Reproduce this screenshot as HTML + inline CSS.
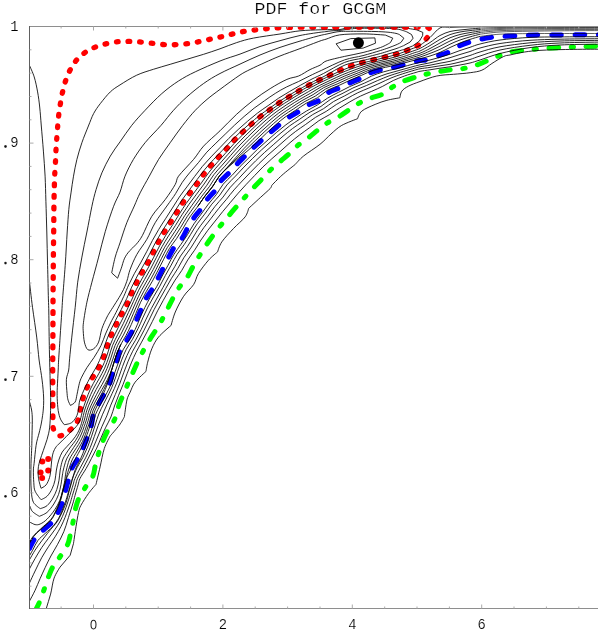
<!DOCTYPE html>
<html><head><meta charset="utf-8">
<style>
html,body{margin:0;padding:0;background:#fff;}
body{width:598px;height:636px;overflow:hidden;position:relative;font-family:"Liberation Mono",monospace;}
svg{position:absolute;left:0;top:0;display:block;}
text{font-family:"Liberation Mono",monospace;fill:#000;}
</style></head><body>
<svg width="598" height="636" viewBox="0 0 598 636">
<defs><clipPath id="plot"><rect x="29.2" y="26" width="580" height="582.6"/></clipPath><clipPath id="toprow"><rect x="322" y="26" width="100" height="4.2"/></clipPath></defs>
<rect width="598" height="636" fill="#fff"/>
<g fill="none" stroke-linecap="round" stroke-linejoin="round" clip-path="url(#plot)">
<path d="M418.0 27.0 C413.5 27.0 406.3 27.0 400.0 27.0 C393.7 27.0 386.7 27.0 380.0 27.0 C373.3 27.0 366.7 27.0 360.0 27.0 C353.3 27.0 345.8 27.0 340.0 27.0 C334.2 27.0 329.4 27.0 325.0 27.0 C320.6 27.0 317.4 27.0 313.6 27.0 C309.8 27.0 306.1 27.1 302.3 27.1 C298.5 27.2 294.5 27.2 290.6 27.3 C286.7 27.4 282.8 27.6 278.9 27.8 C275.0 28.0 271.2 28.4 267.3 28.7 C263.4 29.0 259.4 29.4 255.6 29.9 C251.8 30.3 248.0 30.7 244.2 31.4 C240.4 32.1 236.8 33.0 233.0 33.9 C229.2 34.8 225.5 35.8 221.7 36.7 C217.9 37.6 214.1 38.4 210.3 39.2 C206.5 40.0 202.7 41.0 198.9 41.7 C195.1 42.5 191.2 43.2 187.4 43.7 C183.6 44.2 179.8 44.6 176.0 44.7 C172.2 44.9 168.2 44.8 164.3 44.6 C160.5 44.4 156.8 43.8 152.9 43.4 C149.1 43.0 145.1 42.4 141.2 42.1 C137.3 41.8 133.3 41.5 129.5 41.4 C125.7 41.3 122.1 41.3 118.3 41.7 C114.5 42.1 110.4 42.8 106.6 43.7 C102.8 44.6 98.9 45.7 95.3 47.1 C91.7 48.5 88.3 50.2 85.2 52.4 C82.1 54.6 79.0 57.2 76.5 60.1 C74.0 63.0 72.0 66.4 70.2 69.8 C68.4 73.2 67.0 76.8 65.7 80.5 C64.4 84.2 63.5 88.1 62.6 91.9 C61.7 95.7 61.1 99.3 60.5 103.1 C59.9 106.9 59.3 110.7 58.8 114.5 C58.3 118.3 58.0 122.1 57.7 126.0 C57.4 129.9 57.1 134.1 56.8 138.0 C56.5 141.9 56.2 145.8 56.0 149.7 C55.8 153.6 55.7 157.6 55.5 161.5 C55.3 165.4 55.0 169.4 54.8 173.2 C54.6 177.0 54.5 180.7 54.4 184.5 C54.3 188.3 54.2 192.3 54.1 196.2 C54.0 200.1 54.0 204.1 53.9 207.9 C53.8 211.8 53.8 215.5 53.8 219.3 C53.8 223.2 53.8 225.7 53.7 231.0 C53.6 236.9 53.5 246.8 53.4 255.0 C53.3 263.2 53.3 270.8 53.2 280.0 C53.1 289.2 53.0 300.7 53.0 310.0 C53.0 319.3 52.9 326.0 52.9 336.0 C52.9 346.0 52.7 358.4 52.7 370.0 C52.7 381.6 52.8 397.6 52.8 405.5 C52.8 410.7 52.8 413.2 52.9 417.1 C53.0 421.0 52.3 425.8 53.4 428.9 C54.5 432.0 56.7 435.7 59.4 435.9 C62.1 436.1 66.8 432.6 69.8 430.2 C72.8 427.8 75.7 424.9 77.4 421.6 C79.1 418.3 79.2 414.1 80.1 410.4 C81.0 406.7 81.5 403.2 82.6 399.5 C83.7 395.8 85.3 391.7 86.9 388.1 C88.5 384.5 90.2 381.5 92.2 378.1 C94.2 374.8 96.7 371.5 98.6 368.0 C100.5 364.5 102.2 360.8 103.6 357.2 C105.0 353.6 105.8 349.9 107.0 346.3 C108.2 342.7 109.6 339.0 111.1 335.4 C112.6 331.8 114.5 328.0 116.2 324.5 C117.9 321.0 119.5 317.9 121.3 314.6 C123.1 311.3 125.1 308.2 126.8 304.7 C128.5 301.2 129.8 297.3 131.3 293.8 C132.8 290.3 134.3 287.2 136.0 283.8 C137.7 280.4 139.4 277.1 141.3 273.7 C143.2 270.3 145.4 267.1 147.3 263.7 C149.2 260.3 150.9 256.7 152.7 253.2 C154.5 249.7 156.1 246.3 158.0 242.8 C159.9 239.3 162.1 235.6 164.1 232.3 C166.1 229.0 168.1 226.0 170.2 222.8 C172.2 219.6 174.3 216.3 176.4 213.0 C178.5 209.7 180.5 206.1 182.7 202.9 C184.9 199.7 187.1 196.8 189.4 193.7 C191.7 190.6 194.1 187.6 196.4 184.5 C198.7 181.4 200.7 178.1 203.1 175.0 C205.5 171.9 208.0 168.8 210.6 165.8 C213.2 162.8 216.0 159.8 218.7 156.9 C221.4 154.0 224.1 151.3 226.7 148.5 C229.3 145.7 231.5 142.8 234.2 140.1 C236.8 137.4 239.8 134.7 242.6 132.1 C245.4 129.5 248.0 127.2 250.9 124.6 C253.8 122.0 257.0 119.2 260.1 116.7 C263.2 114.2 266.2 112.2 269.3 109.9 C272.4 107.6 275.7 105.2 278.9 103.0 C282.1 100.8 285.4 98.9 288.6 96.9 C291.8 94.9 295.0 93.0 298.3 91.1 C301.6 89.1 305.2 87.0 308.6 85.2 C312.1 83.4 315.5 81.7 319.0 80.0 C322.5 78.3 326.0 76.8 329.5 75.2 C333.0 73.6 336.5 71.7 340.1 70.2 C343.7 68.7 347.2 67.3 350.9 66.0 C354.6 64.7 358.3 63.6 362.1 62.6 C365.9 61.6 369.7 60.7 373.5 59.8 C377.3 58.9 380.9 58.0 384.7 57.1 C388.5 56.2 392.4 55.4 396.1 54.3 C399.8 53.2 403.4 51.8 407.0 50.4 C410.6 49.0 414.5 47.6 417.8 45.6 C421.1 43.6 424.8 40.7 426.8 38.2 C428.8 35.7 430.0 32.3 430.0 30.5 C430.0 28.7 428.9 27.8 427.0 27.2 C425.0 26.6 422.1 27.0 418.0 27.0Z" stroke="#ff0000" stroke-width="5.3" stroke-dasharray="1.7 9.9"/>
<path d="M29.5 548.5 C30.4 546.8 32.8 541.3 35.0 538.4 C37.2 535.5 39.7 533.7 42.6 530.9 C45.5 528.1 50.1 524.6 52.6 521.7 C55.1 518.8 55.9 516.9 57.6 513.5 C59.3 510.1 61.4 505.3 62.7 501.5 C64.0 497.7 64.5 494.4 65.5 490.7 C66.5 487.0 67.5 483.2 68.6 479.5 C69.6 475.8 70.1 472.2 71.8 468.5 C73.5 464.8 76.7 460.8 78.5 457.5 C80.3 454.2 81.2 452.4 82.7 448.9 C84.2 445.4 86.3 440.1 87.7 436.4 C89.1 432.6 90.1 430.1 91.1 426.4 C92.1 422.7 92.3 417.7 93.6 414.0 C94.8 410.3 96.8 407.4 98.6 404.0 C100.4 400.6 102.6 397.2 104.4 393.9 C106.2 390.5 108.1 387.4 109.5 383.9 C110.9 380.4 111.5 376.9 112.8 373.0 C114.0 369.1 115.8 364.2 117.0 360.5 C118.2 356.8 118.4 353.9 120.0 350.5 C121.6 347.1 124.7 343.7 126.8 340.3 C128.9 336.9 130.9 333.8 132.6 330.3 C134.3 326.8 135.3 323.1 136.8 319.4 C138.3 315.6 140.3 311.3 141.8 307.8 C143.3 304.3 144.2 301.9 146.0 298.6 C147.8 295.3 150.9 291.5 152.9 288.2 C154.9 284.9 156.2 282.0 157.9 278.6 C159.6 275.2 161.6 271.2 163.3 267.7 C165.1 264.2 166.5 261.2 168.4 257.7 C170.3 254.2 172.2 250.0 174.5 246.8 C176.8 243.6 179.7 241.8 181.9 238.6 C184.1 235.4 185.9 230.9 187.8 227.5 C189.8 224.1 191.4 221.3 193.6 218.2 C195.8 215.1 198.7 212.1 201.1 208.8 C203.5 205.6 205.4 201.8 207.8 198.7 C210.2 195.6 213.3 193.2 215.3 190.4 C217.3 187.6 217.6 185.0 220.0 181.9 C222.4 178.8 227.2 174.8 230.0 171.9 C232.8 169.0 234.0 167.2 236.7 164.4 C239.3 161.6 243.1 158.0 245.9 155.2 C248.7 152.4 250.6 150.3 253.4 147.7 C256.2 145.0 259.7 142.0 262.6 139.3 C265.5 136.7 268.1 134.3 271.0 131.8 C273.9 129.3 277.3 126.6 280.2 124.2 C283.1 121.8 285.5 119.7 288.6 117.6 C291.7 115.5 295.3 113.8 298.6 111.7 C301.9 109.6 305.0 107.0 308.6 105.0 C312.2 103.0 316.9 102.0 320.0 100.0 C323.1 98.0 324.1 95.1 327.5 93.1 C330.9 91.0 336.6 89.3 340.1 87.7 C343.6 86.1 344.9 85.1 348.4 83.5 C351.9 81.9 357.5 79.9 361.0 78.2 C364.5 76.5 365.7 74.7 369.3 73.2 C372.9 71.7 378.9 70.2 382.7 69.3 C386.5 68.4 388.1 68.5 391.9 67.7 C395.7 66.9 401.5 65.3 405.3 64.3 C409.1 63.3 412.1 62.4 414.5 61.8 C416.9 61.2 417.8 60.8 420.0 60.5 C422.2 60.2 424.6 60.5 427.5 59.8 C430.4 59.0 434.0 57.3 437.6 56.0 C441.2 54.7 445.7 53.5 449.3 51.8 C452.9 50.1 455.7 47.6 459.3 45.9 C462.9 44.2 467.4 42.8 471.0 41.7 C474.6 40.6 477.2 40.0 481.0 39.2 C484.8 38.4 489.8 37.6 493.6 37.1 C497.4 36.6 499.7 36.6 503.6 36.4 C507.5 36.2 513.2 36.0 517.0 35.8 C520.8 35.6 522.2 35.3 526.2 35.2 C530.2 35.1 534.7 35.1 541.0 35.1 C547.3 35.1 556.1 35.1 563.9 35.0 C571.7 34.9 582.0 34.8 587.7 34.7 C592.3 34.7 593.5 34.7 598.0 34.7 C602.5 34.7 612.2 34.7 615.0 34.7" stroke="#0000ff" stroke-width="5" stroke-dasharray="9.5 13.83"/>
<path d="M36.5 608.4 C37.1 607.2 38.6 604.3 39.9 601.1 C41.2 597.9 42.9 592.9 44.3 589.0 C45.7 585.1 46.7 581.3 48.2 577.5 C49.7 573.7 51.3 569.5 53.3 566.0 C55.3 562.5 57.8 560.1 60.2 556.5 C62.6 552.9 66.0 547.9 67.7 544.3 C69.4 540.7 69.3 538.8 70.2 535.0 C71.1 531.2 72.4 525.5 73.2 521.3 C74.0 517.1 74.3 513.7 75.2 510.0 C76.1 506.3 76.8 503.0 78.5 499.1 C80.2 495.2 83.2 490.7 85.6 486.9 C88.0 483.1 91.1 480.0 92.7 476.5 C94.3 473.0 94.3 469.5 95.3 465.7 C96.3 461.9 97.3 457.6 98.6 453.5 C99.8 449.4 101.3 445.2 102.8 441.4 C104.3 437.6 105.8 434.1 107.8 430.5 C109.8 426.9 112.8 423.3 114.5 419.7 C116.2 416.1 116.9 411.9 117.8 409.0 C118.7 406.1 118.8 405.2 120.0 402.3 C121.5 398.5 124.7 391.4 127.0 386.0 C129.3 380.6 131.7 375.2 134.0 370.0 C136.3 364.8 138.4 359.9 141.0 355.0 C143.6 350.1 146.9 344.3 149.3 340.3 C151.7 336.3 153.1 334.5 155.2 331.1 C157.3 327.7 159.8 323.6 161.9 319.9 C164.0 316.1 165.9 312.2 167.7 308.6 C169.5 305.1 170.8 302.2 172.7 298.6 C174.6 295.0 177.0 290.7 179.4 287.2 C181.8 283.7 184.8 281.1 187.0 277.7 C189.2 274.3 190.8 270.5 192.8 266.9 C194.9 263.3 196.6 260.3 199.3 256.0 C202.0 251.7 205.6 245.9 209.0 241.0 C212.4 236.1 216.8 230.5 220.0 226.3 C223.2 222.1 225.6 219.5 228.5 216.0 C231.4 212.5 234.8 208.6 237.6 205.4 C240.4 202.2 242.5 199.9 245.1 197.0 C247.7 194.1 250.8 190.7 253.4 187.8 C256.1 185.0 258.2 182.8 261.0 179.9 C263.8 177.0 267.0 173.3 270.2 170.2 C273.4 167.1 277.1 164.2 280.2 161.5 C283.3 158.8 285.6 157.0 288.6 154.3 C291.6 151.6 294.8 148.0 298.1 145.2 C301.4 142.4 305.3 140.1 308.6 137.6 C311.9 135.1 314.7 132.6 317.8 130.1 C320.9 127.6 324.1 125.0 327.5 122.8 C330.9 120.6 334.9 119.1 338.4 117.0 C341.9 114.9 345.0 112.6 348.4 110.3 C351.8 108.0 355.2 105.3 358.8 103.3 C362.4 101.3 366.2 99.8 370.2 98.3 C374.2 96.8 379.0 95.9 382.7 94.1 C386.4 92.2 388.8 89.3 392.2 87.2 C395.6 85.1 398.8 83.2 402.8 81.5 C406.8 79.8 412.2 78.2 416.2 76.9 C420.2 75.7 423.2 74.9 427.0 74.0 C430.8 73.1 435.2 72.2 439.2 71.5 C443.2 70.8 446.8 70.3 450.9 69.8 C454.9 69.3 459.3 69.3 463.5 68.5 C467.7 67.7 472.1 66.5 476.0 65.2 C479.9 64.0 483.2 62.5 486.9 61.0 C490.6 59.5 494.4 57.5 498.3 56.0 C502.2 54.5 505.8 53.0 510.0 52.0 C514.2 51.0 519.7 50.8 523.8 50.3 C527.9 49.8 530.9 49.6 534.7 49.2 C538.5 48.9 542.4 48.5 546.7 48.2 C551.0 47.9 556.4 47.7 560.6 47.5 C564.8 47.3 568.3 47.2 572.1 47.0 C575.9 46.8 579.3 46.6 583.6 46.5 C587.9 46.4 592.8 46.3 598.0 46.2 C603.2 46.1 612.2 46.0 615.0 46.0" stroke="#00ff00" stroke-width="5" stroke-dasharray="9.5 12.64 2.4 12.64" stroke-dashoffset="3.3"/>
</g>
<g fill="#ff0000"><circle cx="48.2" cy="459" r="3.0"/><circle cx="42.3" cy="461.5" r="3.0"/><circle cx="40.6" cy="472.6" r="3.0"/><circle cx="42.1" cy="478.1" r="3.0"/><circle cx="48.2" cy="470.6" r="3.0"/></g>
<g clip-path="url(#plot)" stroke="#000" stroke-width="0.85" fill="none" stroke-linejoin="round">
<path d="M29.2 64.8 C30.0 66.8 32.8 72.4 34.2 76.9 C35.6 81.4 36.7 86.9 37.6 91.9 C38.5 96.9 39.1 101.3 39.7 107.0 C40.3 112.7 40.7 118.7 41.3 126.0 C41.9 133.3 42.8 142.7 43.4 151.1 C44.0 159.5 44.7 167.8 45.1 176.2 C45.5 184.6 45.6 192.0 45.9 201.3 C46.2 210.6 46.5 221.3 46.8 232.0 C47.1 242.7 47.3 254.2 47.6 265.4 C47.9 276.5 48.2 291.1 48.4 298.9 C48.6 304.8 48.7 306.1 48.8 312.0 C48.9 319.8 49.1 334.2 49.3 345.4 C49.5 356.5 49.9 369.8 50.1 378.9 C50.3 388.0 50.7 393.1 50.7 400.0 C50.7 406.9 50.5 414.6 50.2 420.1 C49.9 425.6 49.6 429.0 48.7 433.2 C47.9 437.4 46.3 441.6 45.1 445.3 C43.9 449.0 42.6 452.4 41.6 455.4 C40.6 458.4 39.7 461.0 39.1 463.4 C38.5 465.8 38.2 467.5 38.1 470.0 C38.0 472.5 38.0 475.4 38.5 478.5 C39.0 481.6 41.0 488.3 41.0 488.3 C41.0 488.3 44.7 486.7 46.1 484.9 C47.5 483.1 48.7 480.1 49.5 477.6 C50.3 475.1 50.4 473.2 50.8 470.0 C51.2 466.8 51.5 461.3 52.0 458.1 C52.5 454.9 53.0 453.0 53.8 451.0 C54.5 449.0 56.5 446.3 56.5 446.3 C56.5 446.3 60.6 442.2 62.7 440.1 C64.9 438.0 67.2 435.6 69.4 433.4 C71.6 431.2 74.3 428.9 76.1 426.7 C77.9 424.5 79.0 422.8 80.1 420.0 C81.2 417.2 81.7 413.4 82.7 410.1 C83.7 406.8 84.7 403.5 86.0 400.0 C87.3 396.5 88.8 392.5 90.5 388.9 C92.2 385.3 94.2 381.9 96.1 378.4 C98.0 374.9 100.1 371.5 101.9 367.9 C103.6 364.3 105.1 360.6 106.5 356.8 C107.9 353.0 108.8 348.9 110.2 345.1 C111.6 341.2 113.4 337.6 115.1 333.9 C116.8 330.3 118.6 326.7 120.4 323.1 C122.2 319.4 124.1 315.8 125.9 312.2 C127.7 308.5 129.4 304.8 131.1 301.1 C132.8 297.3 134.4 293.5 136.2 289.8 C138.0 286.1 140.0 282.5 141.9 278.9 C143.9 275.2 146.0 271.7 148.0 268.1 C150.0 264.5 151.9 260.8 153.8 257.1 C155.8 253.4 157.6 249.6 159.6 245.9 C161.6 242.2 163.7 238.6 165.9 235.1 C168.1 231.5 170.5 228.1 172.8 224.6 C175.0 221.1 177.2 217.4 179.4 213.9 C181.7 210.3 183.9 206.7 186.3 203.3 C188.7 199.8 191.3 196.5 193.8 193.1 C196.3 189.7 198.9 186.4 201.4 182.9 C203.9 179.5 206.2 175.9 208.8 172.5 C211.4 169.1 214.2 166.0 216.9 162.8 C219.7 159.6 222.6 156.5 225.4 153.3 C228.2 150.1 231.0 146.8 233.9 143.7 C236.8 140.6 239.8 137.6 242.8 134.6 C245.8 131.6 248.9 128.7 252.0 125.8 C255.2 122.9 258.3 120.0 261.6 117.3 C264.8 114.6 268.2 112.0 271.6 109.5 C275.0 107.0 278.5 104.6 282.1 102.2 C285.6 99.9 289.2 97.7 292.9 95.5 C296.5 93.3 300.1 91.1 303.8 89.0 C307.5 86.9 311.3 84.9 315.0 83.0 C318.8 81.1 322.7 79.3 326.5 77.4 C330.4 75.6 334.1 73.7 338.0 72.0 C341.9 70.3 345.8 68.7 349.8 67.2 C353.8 65.7 357.9 64.4 362.0 63.2 C366.1 62.0 370.3 61.1 374.5 60.1 C378.7 59.0 382.8 58.1 387.0 57.0 C391.1 56.0 395.2 55.0 399.2 53.7 C403.1 52.4 407.3 50.6 410.8 49.2 C414.3 47.8 416.8 47.3 420.0 45.3 C423.2 43.3 426.7 40.4 430.0 37.5 C433.3 34.6 436.7 29.6 440.0 27.9 C443.3 26.2 446.7 27.4 450.0 27.3 C453.3 27.2 456.7 27.1 460.0 27.0 C463.3 26.9 466.7 26.9 470.0 26.9 C473.3 26.9 478.3 26.8 480.0 26.8"/>
<path d="M29.2 279.7 C29.8 284.3 31.2 297.7 32.5 307.3 C33.8 316.9 35.6 328.3 36.7 337.1 C37.8 345.9 38.2 352.8 39.1 360.0 C40.0 367.2 41.4 373.9 42.1 380.1 C42.9 386.3 43.4 392.4 43.6 397.0 C43.8 401.6 43.6 404.9 43.4 408.0 C43.2 411.1 43.0 412.7 42.6 415.4 C42.2 418.1 41.8 421.1 41.2 424.0 C40.6 426.9 40.0 429.4 39.1 433.0 C38.2 436.6 36.9 440.2 36.1 445.3 C35.3 450.4 34.6 459.3 34.1 463.4 C33.8 466.4 33.4 467.0 33.4 470.0 C33.3 473.2 33.5 479.2 33.8 482.7 C34.1 486.2 33.9 488.4 35.1 491.2 C36.3 494.0 41.0 499.7 41.0 499.7 C41.0 499.7 45.1 498.1 47.0 496.3 C48.9 494.5 50.8 491.4 52.1 488.7 C53.4 486.0 54.3 483.3 55.0 480.2 C55.7 477.1 55.8 473.4 56.4 470.0 C57.0 466.6 57.8 463.0 58.8 460.0 C59.8 457.0 60.9 454.3 62.2 452.1 C63.5 449.9 65.0 448.8 66.7 446.8 C68.5 444.8 70.9 442.3 72.7 440.1 C74.5 437.9 76.1 435.6 77.4 433.4 C78.7 431.2 79.6 428.9 80.4 426.7 C81.2 424.5 81.6 422.9 82.3 420.1 C83.0 417.3 83.7 413.5 84.7 410.1 C85.7 406.8 87.0 403.5 88.4 400.0 C89.8 396.5 91.5 392.7 93.3 389.1 C95.1 385.6 97.2 382.2 99.1 378.8 C101.0 375.3 102.9 371.8 104.6 368.2 C106.2 364.6 107.5 360.8 108.9 356.9 C110.2 353.1 111.1 349.0 112.6 345.3 C114.1 341.5 116.1 338.0 117.8 334.4 C119.6 330.8 121.5 327.2 123.3 323.6 C125.0 320.0 126.7 316.3 128.4 312.6 C130.2 308.9 131.8 305.2 133.5 301.4 C135.2 297.7 136.8 293.9 138.7 290.2 C140.5 286.6 142.6 283.1 144.6 279.5 C146.6 275.9 148.6 272.4 150.6 268.8 C152.5 265.1 154.4 261.4 156.3 257.7 C158.2 254.0 160.0 250.2 162.1 246.6 C164.1 242.9 166.3 239.4 168.5 235.9 C170.8 232.4 173.2 229.1 175.4 225.5 C177.7 222.0 179.7 218.3 182.0 214.8 C184.3 211.3 186.6 207.8 189.0 204.3 C191.4 200.9 194.0 197.6 196.5 194.2 C199.0 190.8 201.6 187.5 204.0 184.1 C206.5 180.7 208.7 176.9 211.3 173.6 C213.9 170.2 216.7 167.1 219.5 163.9 C222.3 160.7 225.1 157.6 227.9 154.4 C230.7 151.3 233.4 148.0 236.3 144.9 C239.2 141.8 242.2 138.8 245.2 135.8 C248.2 132.8 251.3 129.9 254.4 127.0 C257.5 124.1 260.6 121.2 263.9 118.5 C267.1 115.8 270.4 113.2 273.8 110.7 C277.2 108.2 280.7 105.7 284.3 103.4 C287.8 101.1 291.4 98.9 295.0 96.7 C298.7 94.5 302.3 92.4 306.0 90.3 C309.7 88.2 313.4 86.1 317.1 84.2 C320.9 82.3 324.8 80.5 328.6 78.7 C332.4 76.9 336.2 75.0 340.1 73.4 C344.0 71.7 347.9 70.1 351.9 68.7 C355.9 67.2 359.9 65.8 364.0 64.6 C368.1 63.4 372.3 62.5 376.5 61.5 C380.6 60.5 384.8 59.6 388.9 58.6 C393.1 57.6 397.1 56.5 401.1 55.3 C405.1 54.0 409.7 52.2 412.8 51.1 C416.0 49.9 417.1 49.8 420.0 48.4 C422.9 47.0 426.7 44.6 430.0 42.5 C433.3 40.4 436.7 37.3 440.0 35.5 C443.3 33.7 446.7 32.4 450.0 31.5 C453.3 30.6 456.7 30.4 460.0 30.0 C463.3 29.6 466.7 29.3 470.0 29.0 C473.3 28.7 478.3 28.3 480.0 28.2"/>
<path d="M29.2 400.6 C29.6 402.2 31.1 406.8 31.6 410.0 C32.1 413.2 32.3 415.5 32.3 420.1 C32.3 425.2 32.0 435.3 31.9 440.3 C31.8 444.8 31.8 446.5 31.6 450.3 C31.5 454.1 31.1 458.7 31.0 463.4 C30.9 468.1 30.8 473.9 30.8 478.5 C30.9 483.1 30.9 487.2 31.3 491.2 C31.7 495.2 31.9 499.4 33.4 502.3 C34.9 505.2 40.2 508.6 40.2 508.6 C40.2 508.6 44.9 507.5 47.0 505.7 C49.1 503.9 51.3 500.7 52.9 498.0 C54.5 495.3 55.8 492.5 56.8 489.5 C57.8 486.5 58.4 483.4 59.0 480.2 C59.6 476.9 59.6 473.4 60.2 470.0 C60.8 466.6 61.6 462.8 62.6 460.0 C63.6 457.2 64.9 455.6 66.2 453.4 C67.5 451.2 69.2 448.9 70.7 446.8 C72.2 444.7 74.0 442.9 75.4 440.7 C76.9 438.5 78.3 435.7 79.4 433.4 C80.5 431.1 81.3 428.9 82.1 426.7 C82.9 424.5 83.5 422.9 84.3 420.1 C85.1 417.3 85.8 413.5 86.9 410.1 C88.0 406.8 89.4 403.5 91.0 400.0 C92.6 396.5 94.4 392.9 96.2 389.4 C98.0 385.9 100.2 382.5 102.0 379.0 C103.8 375.5 105.6 372.0 107.1 368.3 C108.6 364.6 109.9 360.8 111.2 357.0 C112.5 353.1 113.5 349.1 115.1 345.4 C116.6 341.7 118.8 338.3 120.6 334.8 C122.4 331.2 124.3 327.7 126.0 324.0 C127.8 320.4 129.4 316.7 131.1 313.0 C132.7 309.3 134.3 305.5 136.0 301.8 C137.7 298.1 139.4 294.3 141.3 290.7 C143.2 287.1 145.3 283.7 147.3 280.1 C149.3 276.6 151.3 273.0 153.3 269.4 C155.2 265.7 157.0 262.0 158.9 258.3 C160.8 254.6 162.6 250.8 164.7 247.2 C166.8 243.6 169.1 240.3 171.4 236.8 C173.6 233.3 176.0 230.0 178.2 226.4 C180.4 222.9 182.4 219.2 184.7 215.7 C187.0 212.2 189.4 208.8 191.9 205.4 C194.3 202.0 196.7 198.6 199.2 195.3 C201.7 191.9 204.4 188.7 206.8 185.3 C209.3 181.8 211.3 177.9 213.9 174.6 C216.5 171.2 219.4 168.3 222.2 165.1 C225.0 162.0 227.7 158.8 230.5 155.6 C233.3 152.4 236.1 149.2 238.9 146.1 C241.8 143.0 244.8 140.0 247.8 137.0 C250.8 134.0 253.8 131.1 256.9 128.2 C260.0 125.4 263.1 122.5 266.3 119.8 C269.6 117.1 272.9 114.4 276.2 111.9 C279.6 109.4 283.1 107.0 286.7 104.7 C290.2 102.4 293.8 100.2 297.4 98.0 C301.0 95.9 304.7 93.8 308.4 91.7 C312.0 89.6 315.6 87.5 319.4 85.5 C323.1 83.6 327.0 81.9 330.8 80.1 C334.6 78.3 338.4 76.4 342.3 74.8 C346.2 73.1 350.2 71.7 354.1 70.2 C358.1 68.7 362.0 67.1 366.0 65.9 C370.1 64.6 374.3 63.7 378.4 62.7 C382.6 61.8 386.8 61.0 391.0 60.0 C395.1 59.0 399.1 57.9 403.1 56.7 C407.1 55.5 412.0 53.6 414.8 52.6 C417.1 51.9 417.8 52.0 420.0 51.0 C422.5 49.8 426.7 47.5 430.0 45.6 C433.3 43.7 436.7 41.2 440.0 39.4 C443.3 37.6 446.7 35.8 450.0 34.6 C453.3 33.4 456.7 32.7 460.0 32.0 C463.3 31.3 466.7 31.0 470.0 30.6 C473.3 30.2 478.3 29.7 480.0 29.5"/>
<path d="M25.0 498.0 C25.7 499.2 28.4 503.9 29.2 505.3 C29.5 505.9 29.7 505.9 30.0 506.5 C30.6 507.6 30.9 510.0 32.5 511.6 C34.0 513.2 39.3 516.3 39.3 516.3 C39.3 516.3 44.6 514.4 47.0 512.4 C49.4 510.3 51.9 507.0 53.8 504.0 C55.7 501.0 57.3 497.9 58.5 494.6 C59.7 491.3 60.4 487.6 61.0 484.4 C61.6 481.1 62.0 477.5 62.4 475.1 C62.8 472.8 62.7 472.3 63.3 470.0 C63.9 467.5 65.1 462.8 66.2 460.0 C67.3 457.2 68.5 455.5 69.8 453.4 C71.0 451.3 72.3 449.5 73.7 447.4 C75.1 445.3 76.8 442.9 78.1 440.7 C79.4 438.5 80.4 436.3 81.4 434.0 C82.4 431.7 83.3 429.0 84.1 426.7 C84.9 424.4 85.5 422.9 86.3 420.1 C87.1 417.3 87.9 413.5 89.1 410.1 C90.3 406.8 92.0 403.4 93.7 400.0 C95.4 396.6 97.3 393.0 99.2 389.5 C101.1 386.1 103.2 382.8 104.9 379.2 C106.7 375.7 108.3 372.1 109.7 368.4 C111.1 364.7 112.2 360.8 113.6 357.0 C114.9 353.1 116.0 349.2 117.6 345.5 C119.3 341.9 121.5 338.6 123.4 335.1 C125.2 331.6 127.0 328.0 128.7 324.4 C130.4 320.7 131.9 316.9 133.5 313.2 C135.2 309.5 136.7 305.7 138.4 302.0 C140.1 298.3 142.0 294.7 143.9 291.1 C145.8 287.5 148.0 284.1 150.0 280.6 C151.9 277.0 153.9 273.4 155.8 269.8 C157.7 266.1 159.5 262.4 161.4 258.7 C163.3 255.1 165.1 251.3 167.2 247.7 C169.3 244.2 171.9 241.0 174.1 237.6 C176.4 234.2 178.6 230.7 180.8 227.2 C183.0 223.6 185.0 219.9 187.3 216.4 C189.6 213.0 192.2 209.7 194.6 206.3 C197.0 203.0 199.4 199.5 201.9 196.1 C204.3 192.8 207.1 189.7 209.6 186.3 C212.0 182.9 214.0 178.9 216.5 175.6 C219.1 172.2 222.1 169.4 224.9 166.2 C227.6 163.1 230.3 159.9 233.1 156.7 C235.9 153.5 238.7 150.4 241.6 147.3 C244.4 144.2 247.4 141.2 250.4 138.2 C253.4 135.3 256.4 132.3 259.5 129.5 C262.6 126.6 265.7 123.8 268.9 121.0 C272.1 118.3 275.3 115.6 278.7 113.1 C282.1 110.6 285.6 108.3 289.1 106.0 C292.6 103.7 296.2 101.4 299.8 99.3 C303.4 97.1 307.2 95.2 310.8 93.1 C314.4 91.0 317.9 88.6 321.6 86.6 C325.3 84.7 329.2 83.1 333.0 81.3 C336.9 79.6 340.6 77.7 344.5 76.1 C348.4 74.4 352.4 73.1 356.3 71.5 C360.2 70.0 364.0 68.3 368.0 67.0 C372.1 65.7 376.3 64.8 380.4 63.9 C384.6 62.9 388.8 62.2 392.9 61.2 C397.0 60.2 400.5 59.2 405.0 57.9 C409.5 56.6 415.8 54.8 420.0 53.2 C424.2 51.6 426.7 50.2 430.0 48.5 C433.3 46.8 436.7 44.8 440.0 43.0 C443.3 41.2 446.7 39.2 450.0 37.8 C453.3 36.4 456.7 35.4 460.0 34.5 C463.3 33.6 466.7 33.2 470.0 32.6 C473.3 32.0 478.3 31.3 480.0 31.0"/>
<path d="M24.0 523.0 C24.9 522.9 27.3 521.8 29.2 522.1 C31.1 522.4 33.3 524.3 35.1 524.6 C36.9 524.9 38.2 524.9 40.2 524.0 C42.2 523.1 44.6 521.6 47.0 519.2 C49.4 516.9 52.5 513.0 54.6 509.9 C56.7 506.8 58.4 503.7 59.7 500.6 C61.0 497.5 61.8 494.2 62.6 491.2 C63.4 488.2 63.9 485.5 64.4 482.7 C64.9 479.9 65.3 476.3 65.6 474.2 C65.9 472.3 65.9 471.9 66.4 470.0 C67.0 467.6 68.1 462.8 69.2 460.0 C70.3 457.2 71.5 455.5 72.8 453.4 C74.0 451.3 75.4 449.4 76.7 447.4 C78.0 445.4 79.3 443.5 80.4 441.4 C81.5 439.3 82.5 436.9 83.4 434.7 C84.3 432.5 85.0 430.4 85.8 428.0 C86.6 425.6 87.4 423.1 88.3 420.1 C89.2 417.1 89.9 413.5 91.2 410.1 C92.5 406.8 94.3 403.4 96.1 400.0 C97.9 396.6 99.9 393.2 101.8 389.7 C103.8 386.3 105.8 383.0 107.5 379.4 C109.3 375.9 110.7 372.2 112.1 368.5 C113.4 364.8 114.4 360.8 115.8 357.0 C117.1 353.2 118.4 349.4 120.1 345.8 C121.8 342.2 124.1 339.0 126.0 335.5 C127.8 332.0 129.6 328.4 131.2 324.7 C132.9 321.0 134.3 317.2 135.8 313.5 C137.4 309.7 138.9 305.9 140.6 302.2 C142.4 298.6 144.3 295.1 146.3 291.5 C148.3 288.0 150.4 284.6 152.4 281.1 C154.4 277.5 156.2 273.9 158.1 270.2 C160.0 266.6 161.8 262.8 163.7 259.2 C165.6 255.5 167.4 251.7 169.5 248.3 C171.7 244.8 174.4 241.8 176.7 238.4 C179.0 235.0 181.1 231.4 183.3 227.9 C185.4 224.3 187.4 220.6 189.7 217.2 C192.0 213.7 194.7 210.6 197.1 207.3 C199.6 203.9 201.8 200.3 204.3 197.0 C206.8 193.7 209.7 190.8 212.1 187.4 C214.6 184.0 216.4 179.9 218.9 176.5 C221.5 173.2 224.6 170.4 227.3 167.3 C230.1 164.2 232.8 160.9 235.6 157.8 C238.3 154.7 241.2 151.6 244.0 148.5 C246.9 145.5 249.8 142.5 252.8 139.5 C255.8 136.5 258.8 133.6 261.9 130.8 C265.0 127.9 268.1 125.1 271.3 122.4 C274.5 119.6 277.7 116.9 281.0 114.4 C284.4 111.9 288.0 109.7 291.5 107.4 C295.0 105.1 298.4 102.7 302.0 100.6 C305.6 98.5 309.5 96.7 313.1 94.6 C316.7 92.5 319.9 89.7 323.6 87.7 C327.3 85.8 331.3 84.4 335.1 82.6 C339.0 80.9 342.7 79.0 346.5 77.4 C350.4 75.7 354.4 74.4 358.3 72.8 C362.2 71.3 365.9 69.4 369.9 68.1 C373.9 66.8 378.1 65.9 382.2 64.9 C386.4 64.0 390.6 63.3 394.7 62.3 C398.8 61.3 402.5 60.2 406.8 59.0 C411.0 57.8 416.1 56.4 420.0 55.1 C423.9 53.8 426.7 52.5 430.0 51.0 C433.3 49.5 436.7 47.9 440.0 46.2 C443.3 44.5 446.7 42.5 450.0 41.0 C453.3 39.5 456.7 38.1 460.0 37.0 C463.3 35.9 466.7 35.4 470.0 34.6 C473.3 33.9 478.3 32.9 480.0 32.5"/>
<path d="M21.6 556.6 C22.5 555.0 25.2 550.4 27.1 547.1 C28.9 543.8 30.5 539.8 32.8 536.7 C35.0 533.7 37.7 531.7 40.7 528.9 C43.6 526.1 48.1 522.6 50.5 519.9 C52.9 517.1 53.5 515.5 55.1 512.2 C56.7 509.0 58.8 504.3 60.1 500.6 C61.3 496.9 61.8 493.6 62.8 490.0 C63.8 486.3 65.3 480.7 65.9 478.8 C66.0 478.4 66.1 478.3 66.2 478.0 C66.6 476.5 67.5 473.0 68.5 470.0 C69.5 467.0 70.9 462.8 72.1 460.0 C73.3 457.2 74.6 455.5 75.8 453.4 C77.0 451.3 78.2 449.4 79.3 447.4 C80.4 445.4 81.5 443.5 82.5 441.4 C83.5 439.3 84.5 436.9 85.3 434.7 C86.1 432.5 86.8 430.4 87.6 428.0 C88.4 425.6 89.3 423.1 90.2 420.1 C91.1 417.1 91.9 413.5 93.2 410.1 C94.5 406.8 96.5 403.4 98.3 400.0 C100.1 396.6 102.1 393.1 103.8 389.6 C105.5 386.1 107.2 382.6 108.6 378.9 C110.1 375.2 111.2 371.4 112.4 367.5 C113.6 363.7 114.7 359.8 116.0 356.0 C117.4 352.2 119.8 346.8 120.6 344.9"/>
<path d="M197.8 206.5 C199.0 204.7 202.4 199.5 204.9 196.1 C207.4 192.8 210.2 189.8 212.7 186.4 C215.1 183.1 217.0 179.0 219.6 175.8 C222.2 172.5 225.4 169.8 228.3 166.8 C231.2 163.8 234.1 160.9 237.1 158.0 C240.1 155.1 243.1 152.3 246.1 149.4 C249.1 146.5 252.1 143.6 255.1 140.7 C258.1 137.8 261.1 134.9 264.2 132.0 C267.2 129.2 270.3 126.3 273.5 123.6 C276.7 120.9 279.8 118.1 283.2 115.7 C286.6 113.2 290.2 111.1 293.7 108.8 C297.2 106.5 300.5 104.0 304.1 101.9 C307.7 99.8 311.7 98.3 315.3 96.1 C318.9 94.0 321.9 91.0 325.6 89.0 C329.2 86.9 333.3 85.7 337.1 84.0 C341.0 82.3 344.7 80.4 348.5 78.7 C352.3 77.1 356.3 75.6 360.1 74.0 C364.0 72.4 367.7 70.5 371.6 69.2 C375.6 67.9 379.8 67.1 384.0 66.1 C388.1 65.1 392.3 64.4 396.4 63.4 C400.5 62.4 404.5 61.3 408.4 60.2 C412.4 59.1 416.4 58.1 420.0 57.0 C423.6 55.9 426.7 54.7 430.0 53.4 C433.3 52.1 436.7 50.9 440.0 49.4 C443.3 47.9 446.7 45.8 450.0 44.2 C453.3 42.6 456.7 41.2 460.0 40.0 C463.3 38.8 466.7 37.9 470.0 36.9 C473.3 35.9 478.3 34.7 480.0 34.2"/>
<path d="M22.0 556.8 C22.9 555.3 25.6 550.7 27.5 547.4 C29.4 544.1 30.9 540.1 33.2 537.0 C35.4 534.0 38.1 532.0 41.0 529.2 C44.0 526.4 48.4 523.0 50.9 520.2 C53.3 517.4 53.9 515.7 55.5 512.5 C57.2 509.2 59.2 504.5 60.5 500.7 C61.8 497.0 62.3 493.7 63.3 490.1 C64.3 486.5 65.7 481.2 66.4 478.9 C66.8 477.6 66.9 477.3 67.5 476.0 C68.2 474.5 69.4 472.7 70.6 470.0 C71.8 467.3 73.5 462.8 74.8 460.0 C76.1 457.2 77.2 455.5 78.3 453.4 C79.4 451.3 80.6 449.4 81.6 447.4 C82.6 445.4 83.5 443.5 84.4 441.4 C85.3 439.3 86.2 436.9 87.0 434.7 C87.8 432.5 88.5 430.4 89.3 428.0 C90.1 425.6 91.0 423.1 92.0 420.1 C93.0 417.1 93.7 413.5 95.1 410.1 C96.5 406.8 98.5 403.4 100.2 400.0 C101.9 396.6 103.8 393.1 105.3 389.5 C106.8 385.8 108.0 382.0 109.2 378.3 C110.4 374.5 111.5 370.6 112.7 366.7 C113.8 362.9 114.9 358.9 116.3 355.2 C117.7 351.4 120.2 346.0 121.0 344.2"/>
<path d="M198.3 205.7 C199.5 204.0 203.0 198.8 205.4 195.4 C207.9 192.1 210.6 189.0 213.1 185.6 C215.6 182.2 217.6 178.3 220.2 175.1 C222.9 171.9 226.1 169.2 229.1 166.4 C232.2 163.6 235.4 161.0 238.5 158.3 C241.7 155.6 245.0 153.1 248.1 150.4 C251.2 147.6 254.2 144.8 257.3 142.0 C260.3 139.1 263.2 136.1 266.3 133.3 C269.3 130.4 272.4 127.6 275.6 124.9 C278.7 122.2 281.9 119.4 285.2 117.0 C288.6 114.5 292.3 112.5 295.7 110.2 C299.2 107.9 302.5 105.4 306.1 103.3 C309.7 101.2 313.9 99.9 317.4 97.8 C321.0 95.6 323.8 92.4 327.4 90.3 C331.0 88.3 335.2 87.1 339.0 85.4 C342.8 83.7 346.5 81.8 350.3 80.1 C354.1 78.4 358.0 76.9 361.8 75.2 C365.6 73.6 369.3 71.6 373.2 70.3 C377.2 69.0 381.4 68.2 385.5 67.3 C389.6 66.3 393.8 65.6 397.9 64.6 C402.0 63.6 406.3 62.4 410.0 61.4 C413.6 60.4 416.7 59.7 420.0 58.8 C423.3 57.9 426.7 57.1 430.0 56.0 C433.3 54.9 436.7 53.8 440.0 52.4 C443.3 51.0 446.7 49.1 450.0 47.5 C453.3 45.9 456.7 44.4 460.0 43.0 C463.3 41.6 466.7 40.5 470.0 39.4 C473.3 38.3 478.3 36.9 480.0 36.4"/>
<path d="M27.1 559.8 C28.0 558.2 30.8 553.5 32.6 550.3 C34.4 547.1 35.8 543.3 37.9 540.5 C40.0 537.8 42.2 536.3 45.1 533.5 C48.0 530.8 52.7 527.1 55.3 524.1 C58.0 521.0 59.0 518.7 60.8 515.1 C62.6 511.5 64.7 506.6 66.1 502.7 C67.5 498.8 68.0 495.3 69.0 491.6 C70.0 487.9 71.0 484.2 72.1 480.5 C73.1 476.8 73.9 473.1 75.3 469.5 C76.7 465.9 78.9 462.6 80.5 459.1 C82.1 455.5 83.5 452.0 84.9 448.3 C86.3 444.7 87.6 441.1 88.8 437.4 C90.1 433.7 91.5 430.2 92.6 426.4 C93.7 422.6 94.0 418.5 95.4 414.8 C96.7 411.1 98.8 407.8 100.6 404.4 C102.4 400.9 104.4 397.6 106.2 394.2 C108.0 390.7 109.8 387.3 111.3 383.7 C112.8 380.0 113.7 376.1 114.9 372.3 C116.2 368.6 117.5 364.8 118.9 361.1 C120.2 357.3 121.3 353.4 123.0 349.9 C124.8 346.4 127.4 343.3 129.4 340.0 C131.4 336.6 133.4 333.2 135.1 329.6 C136.9 326.1 138.2 322.2 139.8 318.6 C141.4 314.9 143.0 311.2 144.8 307.6 C146.6 304.0 148.4 300.5 150.4 297.0 C152.3 293.5 154.6 290.3 156.6 286.8 C158.6 283.3 160.3 279.6 162.2 276.0 C164.1 272.5 166.0 268.9 168.0 265.3 C169.9 261.7 171.7 258.0 173.8 254.6 C176.0 251.1 178.5 248.0 180.8 244.6 C183.0 241.3 185.4 238.0 187.6 234.5 C189.7 231.1 191.6 227.3 193.9 223.9 C196.2 220.5 198.8 217.4 201.2 214.1 C203.6 210.8 205.9 207.3 208.4 204.1 C210.9 200.8 213.8 198.0 216.3 194.7 C218.7 191.4 220.6 187.4 223.2 184.2 C225.8 181.0 229.0 178.4 231.9 175.5 C234.7 172.5 237.4 169.4 240.2 166.4 C243.1 163.4 246.0 160.6 249.0 157.7 C251.9 154.8 254.8 151.8 257.8 149.0 C260.8 146.2 263.9 143.5 267.0 140.8 C270.1 138.0 273.2 135.3 276.3 132.6 C279.5 130.0 282.6 127.3 285.9 124.8 C289.2 122.3 292.7 120.1 296.1 117.8 C299.5 115.5 302.9 113.1 306.5 111.0 C310.0 108.9 313.8 107.2 317.3 105.0 C320.8 102.9 324.0 100.3 327.6 98.1 C331.1 96.0 334.8 94.2 338.5 92.3 C342.1 90.4 345.8 88.5 349.5 86.7 C353.2 85.0 357.1 83.6 360.8 81.8 C364.5 80.0 367.9 77.6 371.7 76.0 C375.5 74.3 379.4 73.1 383.4 71.9 C387.4 70.7 391.6 69.9 395.6 68.9 C399.6 67.8 403.5 66.7 407.5 65.6 C411.6 64.5 416.3 63.2 420.0 62.3 C423.7 61.4 426.7 60.8 430.0 60.0 C433.3 59.2 436.7 58.3 440.0 57.3 C443.3 56.3 446.7 55.3 450.0 54.2 C453.3 53.1 456.7 51.6 460.0 50.5 C463.3 49.4 466.7 48.4 470.0 47.3 C473.3 46.2 475.4 45.1 480.0 44.0 C485.0 42.8 491.7 41.1 500.0 40.0 C508.3 38.9 520.0 37.9 530.0 37.4 C540.0 36.9 548.7 37.0 560.0 36.9 C571.3 36.8 589.3 36.7 598.0 36.7 C604.3 36.7 609.7 36.7 612.0 36.7"/>
<path d="M25.0 567.0 C25.7 565.9 27.5 563.0 29.2 560.2 C30.9 557.4 33.0 553.3 35.1 550.1 C37.2 546.9 39.6 543.7 41.7 540.9 C43.8 538.1 45.6 535.8 47.6 533.2 C49.6 530.6 52.0 528.0 53.8 525.5 C55.6 523.0 57.1 520.9 58.5 518.5 C59.9 516.1 60.9 513.6 62.0 511.0 C63.1 508.4 64.1 505.6 65.0 503.0 C65.9 500.4 66.5 498.5 67.4 495.5 C68.3 492.5 69.7 487.7 70.5 484.9 C71.3 482.1 71.3 481.3 72.4 478.5 C73.5 475.7 75.3 471.3 77.0 467.8 C78.7 464.3 81.0 461.1 82.8 457.6 C84.5 454.2 86.1 450.6 87.6 447.1 C89.0 443.5 90.3 439.9 91.6 436.2 C92.8 432.5 94.0 428.8 95.2 425.1 C96.4 421.4 97.3 417.6 98.8 414.0 C100.2 410.4 102.1 407.0 103.8 403.5 C105.5 400.1 107.4 396.7 109.1 393.2 C110.8 389.7 112.4 386.2 113.8 382.5 C115.3 378.9 116.3 375.1 117.6 371.3 C118.9 367.6 120.2 363.8 121.6 360.1 C123.1 356.4 124.5 352.7 126.3 349.3 C128.1 345.8 130.5 342.7 132.5 339.3 C134.4 335.9 136.2 332.4 137.9 328.8 C139.7 325.3 141.2 321.6 142.8 317.9 C144.5 314.3 146.1 310.7 147.9 307.1 C149.8 303.6 151.7 300.1 153.7 296.6 C155.6 293.2 157.7 289.8 159.7 286.3 C161.6 282.8 163.4 279.1 165.3 275.6 C167.2 272.1 169.3 268.6 171.2 265.1 C173.2 261.5 174.9 257.7 177.1 254.3 C179.2 250.9 182.0 248.0 184.2 244.6 C186.5 241.3 188.5 237.7 190.7 234.3 C192.8 230.8 194.8 227.2 197.2 223.8 C199.5 220.5 202.2 217.5 204.6 214.2 C207.1 211.0 209.2 207.4 211.8 204.2 C214.3 201.0 217.3 198.3 219.8 195.1 C222.3 191.8 224.3 188.0 227.0 184.9 C229.6 181.7 232.7 179.1 235.5 176.1 C238.3 173.1 241.0 170.1 243.9 167.1 C246.7 164.2 249.6 161.3 252.6 158.4 C255.5 155.5 258.5 152.7 261.5 149.9 C264.5 147.1 267.6 144.4 270.7 141.7 C273.8 139.0 276.9 136.3 280.0 133.7 C283.2 131.1 286.3 128.4 289.6 125.9 C292.9 123.5 296.4 121.4 299.8 119.1 C303.3 116.8 306.5 114.3 310.0 112.2 C313.5 110.1 317.5 108.6 321.0 106.4 C324.4 104.2 327.4 101.2 330.9 99.1 C334.4 97.0 338.3 95.5 342.0 93.7 C345.6 91.8 349.2 89.8 352.9 88.0 C356.6 86.3 360.5 84.9 364.3 83.2 C368.0 81.6 371.6 79.6 375.4 78.1 C379.2 76.5 383.1 75.1 387.0 73.8 C390.9 72.6 395.0 71.6 398.9 70.5 C402.9 69.4 407.3 68.1 410.8 67.2 C414.3 66.2 416.8 65.5 420.0 64.8 C423.2 64.1 426.7 63.5 430.0 62.8 C433.3 62.0 436.7 61.1 440.0 60.3 C443.3 59.4 446.7 58.7 450.0 57.7 C453.3 56.7 456.7 55.5 460.0 54.5 C463.3 53.5 466.7 52.6 470.0 51.5 C473.3 50.4 475.4 49.2 480.0 48.0 C485.0 46.7 491.7 44.8 500.0 43.5 C508.3 42.2 520.0 41.0 530.0 40.3 C540.0 39.6 548.7 39.5 560.0 39.2 C571.3 38.9 589.3 38.8 598.0 38.7 C604.3 38.6 609.7 38.7 612.0 38.7"/>
<path d="M25.0 578.0 C25.7 576.6 27.5 572.6 29.2 569.4 C30.9 566.1 33.0 562.1 35.1 558.5 C37.2 554.9 39.5 551.0 41.7 547.6 C43.9 544.2 46.2 541.4 48.4 538.4 C50.6 535.4 52.8 532.6 54.8 529.7 C56.8 526.8 58.7 524.0 60.3 521.0 C61.9 518.0 63.1 515.0 64.3 512.0 C65.5 509.0 66.6 505.8 67.5 503.0 C68.4 500.2 69.0 498.5 69.9 495.5 C70.8 492.5 72.2 487.7 73.1 484.9 C73.9 482.1 73.8 481.3 75.0 478.5 C76.2 475.7 78.3 471.5 80.1 468.1 C81.9 464.6 83.9 461.3 85.6 457.8 C87.3 454.3 88.9 450.8 90.3 447.3 C91.8 443.7 93.0 440.1 94.3 436.5 C95.6 432.8 96.8 429.2 98.2 425.5 C99.5 421.9 100.9 418.3 102.4 414.8 C103.9 411.2 105.5 407.7 107.1 404.2 C108.7 400.7 110.5 397.3 112.0 393.7 C113.6 390.2 115.2 386.7 116.6 383.1 C118.1 379.4 119.3 375.7 120.6 372.0 C121.9 368.3 123.2 364.6 124.7 360.9 C126.2 357.3 127.7 353.7 129.5 350.2 C131.3 346.8 133.6 343.6 135.5 340.2 C137.4 336.8 139.2 333.3 141.0 329.8 C142.8 326.3 144.4 322.7 146.1 319.1 C147.9 315.6 149.5 312.0 151.4 308.4 C153.2 304.9 155.1 301.5 157.1 298.0 C159.0 294.6 160.9 291.1 162.9 287.6 C164.8 284.1 166.6 280.5 168.6 277.1 C170.5 273.6 172.7 270.3 174.7 266.8 C176.7 263.3 178.4 259.5 180.5 256.1 C182.7 252.7 185.3 249.7 187.5 246.4 C189.8 243.0 191.7 239.4 193.9 236.0 C196.0 232.5 198.1 229.0 200.5 225.7 C202.8 222.4 205.5 219.4 207.9 216.2 C210.3 212.9 212.5 209.5 215.1 206.3 C217.6 203.1 220.4 200.3 223.0 197.1 C225.5 193.9 227.7 190.3 230.4 187.2 C233.0 184.1 236.0 181.4 238.8 178.4 C241.6 175.5 244.3 172.4 247.1 169.5 C250.0 166.6 252.8 163.7 255.7 160.8 C258.7 157.9 261.6 155.1 264.6 152.4 C267.6 149.6 270.7 147.0 273.8 144.3 C276.9 141.6 279.9 138.9 283.0 136.2 C286.2 133.6 289.3 130.9 292.6 128.5 C295.8 126.0 299.3 123.9 302.7 121.6 C306.1 119.3 309.3 116.7 312.7 114.6 C316.2 112.4 320.1 110.9 323.5 108.7 C327.0 106.6 330.0 103.7 333.5 101.6 C337.0 99.5 340.8 97.9 344.4 96.0 C348.0 94.1 351.5 92.0 355.2 90.3 C358.9 88.5 362.8 87.1 366.5 85.5 C370.3 83.8 374.0 82.1 377.7 80.5 C381.5 78.9 385.2 77.3 389.0 75.9 C392.9 74.5 396.8 73.4 400.7 72.2 C404.6 71.0 409.3 69.7 412.5 68.8 C415.7 67.9 417.1 67.4 420.0 66.8 C422.9 66.2 426.7 65.8 430.0 65.2 C433.3 64.6 436.7 63.9 440.0 63.2 C443.3 62.6 446.7 62.1 450.0 61.3 C453.3 60.5 456.7 59.5 460.0 58.5 C463.3 57.5 466.7 56.6 470.0 55.5 C473.3 54.4 475.4 53.3 480.0 52.0 C485.0 50.5 491.7 48.3 500.0 46.8 C508.3 45.3 520.0 43.8 530.0 42.8 C540.0 41.8 548.7 41.4 560.0 41.0 C571.3 40.6 589.3 40.5 598.0 40.4 C604.3 40.3 609.7 40.4 612.0 40.4"/>
<path d="M25.0 593.0 C25.7 591.4 27.5 587.3 29.2 583.6 C30.9 579.9 33.0 575.3 35.1 571.0 C37.2 566.7 39.5 561.7 41.7 557.7 C43.9 553.7 46.2 550.3 48.4 546.8 C50.6 543.3 53.0 540.2 55.1 536.8 C57.2 533.4 59.4 529.7 61.0 526.5 C62.6 523.3 63.9 520.2 65.0 517.5 C66.1 514.8 66.9 512.4 67.8 510.0 C68.7 507.6 69.4 505.4 70.2 503.0 C71.0 500.6 71.5 498.5 72.4 495.5 C73.3 492.5 74.8 487.7 75.6 484.9 C76.4 482.1 76.3 481.2 77.5 478.5 C78.7 475.7 81.3 471.7 83.1 468.3 C84.9 464.9 86.7 461.4 88.4 458.0 C90.1 454.6 91.7 451.1 93.3 447.6 C94.8 444.1 96.2 440.6 97.7 437.0 C99.1 433.5 100.5 429.9 102.0 426.4 C103.5 422.9 105.3 419.5 106.8 415.9 C108.2 412.4 109.4 408.7 110.8 405.1 C112.3 401.6 113.9 398.1 115.3 394.5 C116.8 391.0 118.3 387.4 119.7 383.8 C121.1 380.2 122.4 376.5 123.7 372.8 C125.1 369.2 126.4 365.4 127.9 361.8 C129.4 358.2 130.9 354.6 132.7 351.2 C134.4 347.7 136.6 344.5 138.4 341.0 C140.3 337.6 142.0 334.1 143.8 330.7 C145.6 327.2 147.3 323.6 149.0 320.1 C150.7 316.5 152.4 312.9 154.2 309.4 C156.0 305.9 157.9 302.5 159.8 299.0 C161.7 295.6 163.7 292.1 165.6 288.7 C167.6 285.2 169.5 281.7 171.5 278.3 C173.6 274.9 175.9 271.7 177.9 268.3 C180.0 264.9 181.7 261.2 183.8 257.8 C185.9 254.4 188.5 251.4 190.7 248.1 C193.0 244.7 194.9 241.1 197.1 237.8 C199.3 234.4 201.4 231.0 203.8 227.7 C206.2 224.4 208.8 221.4 211.2 218.2 C213.7 215.1 216.0 211.7 218.6 208.6 C221.1 205.4 223.8 202.5 226.4 199.4 C228.9 196.3 231.3 192.9 234.0 189.9 C236.6 186.8 239.5 184.0 242.2 181.0 C245.0 178.1 247.8 175.1 250.6 172.2 C253.4 169.3 256.2 166.3 259.1 163.5 C262.0 160.6 264.9 157.9 267.9 155.1 C270.9 152.4 274.0 149.8 277.1 147.1 C280.1 144.4 283.1 141.7 286.2 139.1 C289.3 136.4 292.4 133.8 295.7 131.4 C298.9 128.9 302.4 126.8 305.7 124.4 C309.0 122.1 312.2 119.5 315.6 117.3 C319.0 115.1 322.8 113.5 326.2 111.4 C329.7 109.2 332.9 106.6 336.3 104.5 C339.8 102.4 343.4 100.5 347.0 98.6 C350.5 96.6 354.0 94.6 357.7 92.8 C361.3 91.1 365.2 89.6 368.9 88.0 C372.6 86.4 376.4 84.8 380.0 83.1 C383.7 81.4 387.3 79.5 391.0 78.0 C394.8 76.4 398.7 75.1 402.5 73.9 C406.4 72.6 411.3 71.2 414.2 70.3 C416.8 69.6 417.4 69.3 420.0 68.8 C422.6 68.3 426.7 67.9 430.0 67.4 C433.3 66.9 436.7 66.3 440.0 65.8 C443.3 65.3 446.7 64.9 450.0 64.3 C453.3 63.7 456.7 62.8 460.0 62.0 C463.3 61.2 466.7 60.5 470.0 59.5 C473.3 58.5 475.5 57.4 480.0 56.0 C485.0 54.4 491.7 51.8 500.0 50.0 C508.3 48.2 520.0 46.5 530.0 45.3 C540.0 44.1 548.7 43.5 560.0 43.0 C571.3 42.5 589.3 42.2 598.0 42.1 C604.3 42.0 609.7 42.1 612.0 42.1"/>
<path d="M25.0 609.0 C25.7 607.8 27.5 604.7 29.2 601.6 C30.9 598.5 33.3 594.1 35.1 590.3 C36.9 586.5 38.4 582.4 40.1 578.6 C41.8 574.8 43.3 571.5 45.1 567.7 C46.9 563.9 48.8 559.9 50.9 556.0 C53.0 552.1 55.5 548.3 57.6 544.3 C59.8 540.2 62.1 535.8 63.8 531.7 C65.5 527.7 66.6 523.5 67.7 520.0 C68.8 516.5 69.6 513.8 70.5 511.0 C71.4 508.2 72.2 505.6 73.0 503.0 C73.8 500.4 74.2 498.5 75.0 495.5 C75.8 492.5 77.3 487.7 78.1 484.9 C78.9 482.1 78.7 481.2 80.0 478.5 C81.3 475.8 84.2 471.9 86.1 468.5 C88.1 465.2 89.7 461.7 91.5 458.3 C93.2 454.9 95.0 451.6 96.7 448.1 C98.3 444.7 99.6 441.1 101.1 437.6 C102.6 434.1 104.1 430.6 105.8 427.2 C107.4 423.8 109.5 420.5 110.9 417.0 C112.4 413.5 113.2 409.7 114.5 406.0 C115.8 402.4 117.2 398.9 118.6 395.3 C120.1 391.7 121.6 388.2 123.0 384.6 C124.4 381.0 125.7 377.4 127.1 373.7 C128.5 370.1 129.8 366.4 131.3 362.9 C132.8 359.3 134.4 355.7 136.1 352.3 C137.8 348.8 139.8 345.5 141.6 342.1 C143.5 338.7 145.3 335.3 147.1 331.8 C148.9 328.4 150.7 324.9 152.4 321.4 C154.2 317.9 155.8 314.3 157.6 310.8 C159.4 307.3 161.3 303.9 163.2 300.5 C165.1 297.0 167.0 293.6 169.0 290.2 C171.0 286.8 173.0 283.4 175.1 280.1 C177.3 276.8 179.7 273.7 181.8 270.4 C183.9 267.0 185.6 263.3 187.7 260.0 C189.8 256.6 192.3 253.6 194.5 250.3 C196.7 246.9 198.7 243.4 200.9 240.1 C203.1 236.8 205.4 233.5 207.8 230.3 C210.2 227.1 212.8 224.1 215.2 221.0 C217.7 217.9 220.2 214.7 222.7 211.6 C225.2 208.5 227.9 205.5 230.4 202.4 C233.0 199.4 235.6 196.2 238.2 193.2 C240.9 190.2 243.6 187.3 246.3 184.3 C249.1 181.4 251.9 178.5 254.6 175.6 C257.4 172.7 260.2 169.7 263.0 166.9 C265.9 164.1 268.9 161.4 271.9 158.7 C274.9 156.0 278.0 153.5 281.0 150.8 C284.0 148.1 286.9 145.3 290.0 142.7 C293.1 140.1 296.2 137.5 299.4 135.1 C302.6 132.6 306.0 130.4 309.2 128.0 C312.5 125.6 315.6 123.0 318.9 120.7 C322.3 118.5 326.0 116.8 329.4 114.7 C332.8 112.6 336.1 110.2 339.5 108.1 C343.0 105.9 346.4 103.8 349.9 101.8 C353.4 99.8 356.9 97.8 360.5 96.1 C364.2 94.3 368.0 92.9 371.7 91.3 C375.4 89.7 379.1 88.1 382.7 86.3 C386.3 84.5 389.7 82.2 393.3 80.5 C396.9 78.8 400.7 77.4 404.5 76.0 C408.3 74.6 413.5 73.1 416.1 72.4 C417.8 71.8 418.2 71.6 420.0 71.3 C422.3 70.9 426.7 70.3 430.0 69.8 C433.3 69.3 436.7 68.7 440.0 68.2 C443.3 67.7 446.7 67.3 450.0 66.8 C453.3 66.3 456.7 65.6 460.0 65.0 C463.3 64.4 466.7 63.8 470.0 63.0 C473.3 62.2 475.5 61.4 480.0 60.0 C485.0 58.4 491.7 55.6 500.0 53.5 C508.3 51.4 520.0 49.0 530.0 47.6 C540.0 46.2 548.7 45.6 560.0 45.0 C571.3 44.4 589.3 44.3 598.0 44.2 C604.3 44.1 609.7 44.2 612.0 44.2"/>
<path d="M392.8 38.2 L385.4 35.1 C385.4 35.1 370.7 33.9 363.1 33.9 C355.5 33.9 345.8 34.0 339.6 34.9 C333.4 35.8 329.3 38.2 326.0 39.2 C323.3 40.0 322.7 40.0 320.0 41.0 C315.7 42.6 306.7 46.1 300.0 48.6 C293.3 51.1 285.8 53.7 280.0 56.0 C274.2 58.3 270.0 60.2 265.0 62.5 C260.0 64.8 254.2 67.4 250.0 69.5 C245.8 71.6 244.3 72.2 240.0 75.0 C235.0 78.3 225.5 85.3 220.0 89.4 C214.5 93.5 211.1 95.9 207.0 99.4 C202.9 102.9 199.4 106.0 195.3 110.3 C191.2 114.6 186.9 120.0 182.7 125.4 C178.5 130.8 174.2 137.0 170.2 142.7 C166.2 148.4 162.1 153.8 158.6 159.4 C155.1 165.0 152.4 170.6 149.3 176.2 C146.2 181.8 142.6 187.9 140.1 192.9 C137.6 197.9 136.5 201.0 134.3 206.0 C132.1 211.0 129.2 216.6 126.8 222.7 C124.4 228.8 121.9 237.1 120.0 242.8 C118.1 248.5 116.6 252.1 115.2 257.1 C113.8 262.1 111.7 272.9 111.7 272.9 L117.6 278.2 C117.6 278.2 119.9 272.1 121.1 268.8 C122.3 265.5 123.2 261.1 124.6 258.2 C126.0 255.3 127.4 253.5 129.3 251.2 C131.2 248.9 134.1 246.8 136.3 244.2 C138.5 241.6 140.1 239.7 142.4 235.5 C145.0 230.8 148.0 222.3 151.8 216.3 C155.6 210.3 161.3 204.9 165.2 199.6 C169.1 194.3 173.0 188.4 175.2 184.5 C177.2 181.0 176.1 179.4 178.5 176.2 C181.6 172.0 189.4 164.4 193.6 159.4 C197.8 154.4 199.2 150.9 203.6 146.1 C208.0 141.3 214.5 136.1 220.0 130.8 C225.5 125.5 231.1 119.3 236.7 114.2 C242.3 109.1 247.8 104.5 253.4 100.2 C259.0 95.9 264.6 92.1 270.2 88.6 C275.8 85.1 282.2 81.5 286.9 79.4 C291.6 77.3 294.8 77.6 298.6 76.0 C302.5 74.4 306.4 71.4 310.0 69.6 C313.6 67.8 317.3 66.6 320.0 65.2 C322.7 63.8 322.9 62.2 326.0 61.1 C330.1 59.6 338.4 57.8 344.6 56.4 C350.8 55.0 357.1 54.0 363.1 52.5 C369.1 51.0 375.9 49.1 380.5 47.5 C385.1 45.9 390.4 42.6 390.4 42.6 L392.8 38.2 L392.8 38.2Z"/>
<path d="M403.9 38.2 L399.3 34.5 C399.3 34.5 397.5 33.7 396.0 33.4 C394.1 33.0 391.5 32.5 388.0 32.2 C384.5 31.9 379.7 31.6 375.0 31.5 C370.3 31.4 364.5 31.3 360.0 31.3 C355.5 31.3 351.3 31.3 348.0 31.3 C344.7 31.3 342.3 31.3 340.0 31.5 C337.7 31.7 336.3 31.9 334.0 32.4 C331.7 32.9 328.3 33.7 326.0 34.2 C323.7 34.7 322.7 34.8 320.0 35.5 C315.7 36.6 306.7 39.1 300.0 41.1 C293.3 43.1 286.7 45.1 280.0 47.4 C273.3 49.7 266.7 52.2 260.0 55.0 C253.3 57.8 246.7 61.0 240.0 64.1 C233.3 67.2 226.1 70.3 220.0 73.5 C213.9 76.7 209.1 79.6 203.6 83.5 C198.1 87.4 191.9 92.4 186.9 96.9 C181.9 101.4 177.8 105.5 173.5 110.3 C169.2 115.0 165.7 120.0 161.0 125.4 C156.3 130.8 149.7 137.0 145.1 142.7 C140.5 148.4 136.8 153.8 133.4 159.4 C130.1 165.0 127.2 170.8 125.0 176.2 C122.8 181.6 121.9 187.1 120.0 192.1 C118.1 197.1 116.0 199.8 113.6 206.3 C111.1 212.9 107.8 222.9 105.3 231.4 C102.8 239.9 100.8 248.6 98.6 257.1 C96.4 265.6 93.9 274.7 91.9 282.2 C90.0 289.7 88.3 295.5 86.9 302.2 C85.5 308.9 84.1 317.6 83.5 322.3 C83.0 326.1 83.0 327.4 83.2 330.7 C83.4 334.0 83.7 339.0 84.4 342.1 C85.2 345.2 86.2 348.5 87.7 349.6 C89.2 350.7 91.8 350.1 93.6 348.8 C95.4 347.6 97.2 345.5 98.6 342.1 C100.0 338.8 100.5 332.9 101.9 328.7 C103.3 324.5 105.6 319.9 107.0 317.0 C108.3 314.4 108.8 313.9 110.3 311.4 C112.8 307.4 119.0 298.0 121.7 293.0 C124.5 288.0 125.4 285.2 126.8 281.3 C128.2 277.4 128.4 274.0 130.1 269.5 C131.8 265.0 134.0 259.5 136.8 254.5 C139.6 249.5 143.7 244.7 146.8 239.4 C149.9 234.1 151.8 228.3 155.2 222.7 C158.5 217.1 163.5 210.8 166.9 206.0 C170.3 201.2 173.1 197.6 175.6 193.6 C178.2 189.7 179.8 185.8 182.3 182.3 C184.7 178.7 187.5 175.4 190.2 172.1 C193.0 168.8 195.9 165.7 198.6 162.4 C201.4 159.0 203.9 155.4 206.8 152.2 C209.7 149.0 212.9 146.2 215.9 143.2 C219.0 140.2 222.1 137.2 225.2 134.2 C228.3 131.2 231.4 128.1 234.5 125.2 C237.6 122.2 240.8 119.3 244.1 116.5 C247.4 113.7 250.7 110.9 254.1 108.2 C257.5 105.6 261.0 103.2 264.6 100.7 C268.1 98.2 271.6 95.7 275.3 93.4 C278.9 91.1 282.6 88.9 286.5 87.0 C290.4 85.0 294.5 83.5 298.4 81.6 C302.3 79.7 306.1 77.7 309.9 75.8 C313.8 73.9 316.3 72.7 321.6 70.3 C327.4 67.6 337.7 62.3 344.6 59.9 C351.5 57.5 357.0 57.2 363.0 55.6 C369.0 54.0 376.3 51.8 380.5 50.5 C383.9 49.5 385.4 48.9 388.0 48.0 C390.6 47.1 393.8 45.8 396.0 44.9 C398.2 44.0 401.0 42.4 401.0 42.4 L403.9 38.2Z"/>
<path d="M413.1 38.2 L411.5 34.5 L406.9 31.9 C406.9 31.9 402.5 30.2 400.0 29.6 C397.5 29.1 395.3 28.8 392.0 28.6 C388.7 28.4 385.3 28.4 380.0 28.3 C374.7 28.2 365.0 28.2 360.0 28.3 C355.5 28.4 352.7 28.6 350.0 28.9 C347.3 29.1 345.7 29.6 344.0 29.8 C342.3 30.1 341.8 30.2 340.0 30.4 C338.0 30.6 334.3 30.6 332.0 30.8 C329.7 31.0 328.0 31.4 326.0 31.6 C324.0 31.9 322.7 31.9 320.0 32.3 C315.7 32.9 306.7 34.1 300.0 35.5 C293.3 36.9 286.7 38.9 280.0 40.7 C273.3 42.5 266.7 44.3 260.0 46.5 C253.3 48.7 246.7 51.7 240.0 54.1 C233.3 56.5 227.4 58.0 220.0 61.0 C212.6 64.0 202.2 68.5 195.3 71.8 C188.4 75.1 184.1 77.4 178.5 81.0 C172.9 84.6 167.4 88.7 161.8 93.6 C156.2 98.5 150.1 105.0 145.1 110.3 C140.1 115.6 135.9 120.1 131.7 125.4 C127.5 130.7 123.6 136.8 120.0 141.9 C116.4 147.0 113.3 150.9 110.3 156.1 C107.3 161.2 104.3 167.2 101.9 172.8 C99.5 178.4 97.8 183.9 96.1 189.5 C94.4 195.1 93.4 199.2 91.9 206.3 C90.4 213.4 88.6 223.5 86.9 232.0 C85.2 240.5 83.4 248.7 81.9 257.1 C80.4 265.5 78.8 273.8 77.7 282.2 C76.6 290.6 76.2 298.1 75.2 307.3 C74.2 316.5 72.7 328.5 71.8 337.1 C70.9 345.7 70.1 353.3 69.6 358.8 C69.1 363.8 69.2 366.6 68.7 370.0 C68.2 373.4 66.7 375.5 66.4 379.4 C66.1 383.3 66.8 390.1 67.1 393.6 C67.3 396.6 67.5 398.2 68.1 400.2 C68.6 402.2 70.4 405.4 70.4 405.4 C70.4 405.4 74.0 403.9 75.1 402.1 C76.2 400.3 76.3 397.6 77.0 394.5 C77.7 391.4 78.6 386.1 79.4 383.2 C80.2 380.4 80.4 379.7 81.7 377.1 C83.0 374.5 85.0 370.8 87.0 367.5 C89.0 364.2 91.7 361.2 94.0 357.5 C96.3 353.8 99.1 349.4 101.0 345.5 C102.9 341.6 103.9 337.8 105.5 334.0 C107.1 330.2 108.8 326.6 110.5 323.0 C112.2 319.4 113.8 316.9 116.0 312.5 C118.2 308.1 121.6 301.1 123.7 296.5 C125.8 291.9 126.9 288.7 128.7 284.9 C130.5 281.1 132.4 277.4 134.3 273.7 C136.3 270.1 138.5 266.6 140.6 262.9 C142.6 259.3 144.6 255.6 146.6 251.8 C148.5 248.1 150.4 244.2 152.4 240.5 C154.4 236.8 156.5 233.1 158.7 229.5 C160.9 225.8 163.2 222.3 165.5 218.8 C167.8 215.2 170.1 211.6 172.4 208.0 C174.7 204.4 176.9 200.7 179.3 197.1 C181.7 193.6 184.3 190.3 186.9 186.9 C189.4 183.4 191.9 180.0 194.5 176.6 C197.1 173.2 199.7 169.7 202.4 166.4 C205.2 163.2 208.1 160.0 211.0 156.9 C213.9 153.8 217.0 150.8 219.9 147.7 C222.9 144.6 225.8 141.4 228.8 138.4 C231.8 135.4 234.9 132.5 238.1 129.6 C241.2 126.7 244.5 123.9 247.7 121.1 C251.0 118.4 254.3 115.6 257.6 113.0 C261.0 110.4 264.6 108.0 268.1 105.6 C271.6 103.1 275.1 100.6 278.6 98.2 C282.2 95.9 285.9 93.7 289.6 91.5 C293.3 89.3 296.9 87.2 300.7 85.1 C304.4 83.0 308.2 81.0 312.0 79.0 C315.8 77.1 318.4 76.1 323.5 73.5 C329.0 70.7 338.0 65.0 344.6 62.4 C351.2 59.8 357.0 59.5 363.0 58.0 C369.0 56.5 376.3 54.6 380.5 53.5 C383.9 52.6 385.4 52.0 388.0 51.2 C390.6 50.4 393.4 49.6 396.0 48.7 C398.6 47.8 403.5 45.7 403.5 45.7 L410.2 42.0 L413.1 38.2Z"/>
<path d="M422.8 32.4 L416.9 29.9 C416.9 29.9 408.5 28.4 405.0 28.0 C401.5 27.6 400.1 27.5 396.0 27.4 C391.8 27.3 386.0 27.2 380.0 27.2 C374.0 27.2 365.0 27.1 360.0 27.2 C355.5 27.3 352.7 27.4 350.0 27.6 C347.3 27.8 345.7 28.3 344.0 28.6 C342.3 28.9 341.8 29.4 340.0 29.5 C337.7 29.7 333.3 29.6 330.0 29.6 C326.7 29.7 324.5 29.6 320.0 29.8 C315.0 30.0 306.7 30.1 300.0 30.8 C293.3 31.5 287.8 32.8 280.0 34.0 C272.2 35.2 260.6 36.7 253.4 38.1 C246.2 39.5 242.3 40.8 236.7 42.6 C231.1 44.4 225.5 46.8 220.0 48.8 C214.5 50.8 209.1 52.5 203.6 54.3 C198.1 56.0 192.5 57.6 186.9 59.3 C181.3 61.0 175.8 62.6 170.2 64.3 C164.6 66.0 159.0 67.5 153.4 69.3 C147.8 71.1 142.3 72.6 136.7 75.2 C131.1 77.8 124.4 82.1 120.0 84.9 C115.6 87.7 113.6 88.8 110.3 91.9 C107.0 95.0 103.1 100.0 100.3 103.6 C97.5 107.2 95.6 109.9 93.6 113.6 C91.6 117.3 90.4 121.2 88.4 126.0 C86.5 130.8 83.8 137.1 81.9 142.7 C80.0 148.3 78.3 153.8 76.9 159.4 C75.5 165.0 74.5 170.6 73.5 176.2 C72.5 181.8 71.8 187.3 71.0 192.9 C70.2 198.5 69.4 203.1 68.8 209.6 C68.2 216.1 67.8 222.7 67.2 232.0 C66.6 241.3 66.0 254.2 65.2 265.4 C64.4 276.5 63.2 291.1 62.6 298.9 C62.2 304.8 62.2 306.1 61.8 312.0 C61.4 318.4 60.6 328.7 60.1 337.1 C59.6 345.5 58.8 356.7 58.5 362.2 C58.3 365.7 58.4 366.5 58.2 370.0 C58.0 374.2 57.5 382.6 57.3 387.3 C57.1 392.0 57.1 394.4 57.2 398.3 C57.4 402.2 57.7 407.1 58.2 410.6 C58.8 414.1 59.5 416.8 60.5 419.1 C61.5 421.5 64.3 424.7 64.3 424.7 C64.3 424.7 69.4 424.1 71.4 422.8 C73.4 421.6 74.9 419.3 76.1 417.2 C77.3 415.1 77.8 413.0 78.4 410.1 C79.0 407.2 78.7 403.9 79.9 400.0 C81.1 396.1 83.6 390.8 85.4 386.8 C87.2 382.9 89.0 379.7 90.9 376.2 C92.9 372.6 95.2 369.3 97.0 365.8 C98.8 362.2 100.4 358.5 101.8 354.6 C103.3 350.8 104.3 346.7 105.6 342.9 C107.0 339.0 108.5 335.2 110.2 331.4 C111.8 327.7 113.7 324.1 115.5 320.4 C117.3 316.8 119.3 313.2 121.2 309.6 C123.1 306.0 124.9 302.3 126.7 298.6 C128.4 294.8 129.9 290.9 131.7 287.1 C133.5 283.4 135.4 279.6 137.3 276.0 C139.3 272.3 141.5 268.9 143.5 265.2 C145.6 261.6 147.5 257.9 149.5 254.2 C151.4 250.5 153.3 246.6 155.3 242.9 C157.3 239.2 159.4 235.6 161.6 232.0 C163.8 228.4 166.1 224.9 168.4 221.3 C170.6 217.8 172.9 214.2 175.2 210.6 C177.5 207.0 179.7 203.3 182.1 199.8 C184.5 196.3 187.1 193.0 189.6 189.6 C192.1 186.2 194.7 182.8 197.2 179.4 C199.8 176.0 202.3 172.5 205.0 169.2 C207.7 165.9 210.6 162.8 213.5 159.6 C216.3 156.5 219.3 153.5 222.3 150.4 C225.2 147.3 228.0 144.1 231.0 141.1 C234.0 138.0 237.1 135.1 240.2 132.2 C243.3 129.3 246.5 126.5 249.7 123.7 C252.9 120.9 256.2 118.1 259.5 115.5 C262.9 112.8 266.4 110.5 269.9 108.0 C273.4 105.5 276.8 103.0 280.4 100.7 C283.9 98.4 287.6 96.2 291.2 94.0 C294.9 91.8 298.6 89.6 302.3 87.6 C306.0 85.5 309.7 83.4 313.5 81.5 C317.3 79.5 319.9 78.6 325.0 75.9 C330.2 73.1 338.7 67.6 345.0 65.0 C351.3 62.4 357.1 62.0 363.0 60.5 C368.9 59.0 376.3 57.4 380.5 56.3 C383.9 55.4 385.4 54.8 388.0 54.0 C390.6 53.2 393.3 52.6 396.0 51.8 C398.7 51.0 404.4 49.3 404.4 49.3 L412.7 45.9 L419.4 41.1 L422.6 35.7 L422.8 32.4Z"/>
<path d="M336.1 43.8 L350.8 38.6 L374.9 37.9 L375.5 43.2 L363.1 48.1 L340.9 50.2Z"/>
<path d="M43.0 622.0 C43.5 619.7 45.0 613.0 46.3 608.4 C47.6 603.8 49.3 599.1 50.6 594.1 C51.9 589.1 52.5 582.6 54.1 578.1 C55.7 573.6 60.1 567.0 60.1 567.0 L70.2 555.2 L73.5 543.4 C73.5 543.4 75.2 531.9 76.0 526.7 C76.8 521.6 77.7 516.0 78.5 512.5 C79.3 509.2 79.3 508.4 80.9 505.4 C82.6 502.2 85.9 497.1 88.4 493.6 C90.9 490.1 96.0 484.4 96.0 484.4 C96.0 484.4 98.7 472.9 100.1 466.9 C101.5 460.9 102.6 453.6 104.3 448.5 C106.0 443.4 110.2 436.0 110.2 436.0 C110.2 436.0 117.0 428.3 119.4 425.1 C121.8 421.9 124.4 416.7 124.4 416.7 C124.4 416.7 126.0 404.1 126.9 400.0 C127.8 396.3 128.7 395.3 130.1 392.3 C131.5 389.3 132.4 385.7 135.1 382.2 C137.8 378.7 146.0 371.4 146.0 371.4 C146.0 371.4 146.7 366.0 147.7 362.2 C148.7 358.4 150.0 353.0 151.8 348.8 C153.6 344.6 155.3 341.0 158.5 337.1 C161.7 333.2 171.1 325.4 171.1 325.4 C171.1 325.4 173.2 316.9 175.3 312.0 C177.4 307.1 180.6 300.9 183.6 296.3 C186.6 291.7 191.1 288.4 193.6 284.6 C196.1 280.8 195.9 277.7 198.4 273.6 C200.9 269.6 205.2 263.9 208.4 260.3 C211.6 256.7 217.6 251.9 217.6 251.9 C217.6 251.9 219.2 245.8 221.8 241.9 C224.5 238.0 229.6 232.7 233.5 228.5 C237.4 224.3 242.7 220.2 245.2 216.8 C247.6 213.5 248.6 208.4 248.6 208.4 C248.6 208.4 256.7 200.9 260.3 197.6 C263.9 194.3 268.4 190.4 270.3 188.4 C271.4 187.3 271.8 185.3 271.8 185.3 C271.8 185.3 278.0 178.8 281.9 175.3 C285.8 171.8 295.3 164.4 295.3 164.4 C295.3 164.4 299.5 159.3 303.6 156.0 C307.7 152.7 315.4 148.0 320.0 144.3 C324.6 140.6 327.4 137.2 331.0 134.0 C334.6 130.8 337.3 128.0 341.7 125.4 C346.1 122.9 357.6 118.7 357.6 118.7 C357.6 118.7 358.9 113.5 361.8 111.1 C364.7 108.7 371.0 106.2 375.2 104.4 C379.4 102.6 382.8 101.4 386.9 100.3 C391.0 99.2 399.9 97.8 399.9 97.8 C399.9 97.8 400.4 93.0 401.9 91.1 C403.3 89.1 405.6 87.7 408.6 86.1 C411.6 84.5 415.3 83.2 420.0 81.5 C424.7 79.8 431.1 77.2 436.7 76.0 C442.3 74.8 447.8 74.8 453.4 74.3 C459.0 73.8 465.4 73.4 470.2 72.7 C474.9 72.0 478.3 71.7 481.9 70.2 C485.5 68.7 488.3 65.8 491.9 63.5 C495.5 61.2 500.6 57.9 503.6 56.5 C506.3 55.2 507.1 55.6 510.0 55.0 C513.5 54.2 519.4 52.8 524.6 52.0 C529.8 51.2 534.2 50.7 541.0 50.3 C547.8 49.9 556.1 49.7 565.6 49.5 C575.1 49.3 589.8 49.2 598.0 49.2 C605.6 49.2 612.2 49.2 615.0 49.2"/>
<g stroke-width="0.62"><path d="M480.0 26.8 C483.3 26.8 491.7 26.7 500.0 26.7 C508.3 26.7 520.0 26.6 530.0 26.6 C540.0 26.6 548.7 26.6 560.0 26.6 C571.3 26.6 589.3 26.6 598.0 26.6 C604.3 26.6 609.7 26.6 612.0 26.6"/><path d="M480.0 28.2 C483.3 28.1 491.7 27.7 500.0 27.5 C508.3 27.3 520.0 27.1 530.0 27.0 C540.0 26.9 548.7 26.9 560.0 26.9 C571.3 26.9 589.3 26.9 598.0 26.9 C604.3 26.9 609.7 26.9 612.0 26.9"/><path d="M480.0 29.5 C483.3 29.3 491.7 28.8 500.0 28.5 C508.3 28.2 520.0 27.9 530.0 27.8 C540.0 27.7 548.7 27.7 560.0 27.6 C571.3 27.6 589.3 27.5 598.0 27.5 C604.3 27.5 609.7 27.5 612.0 27.5"/><path d="M480.0 31.0 C483.3 30.8 491.7 29.9 500.0 29.5 C508.3 29.1 520.0 29.0 530.0 28.8 C540.0 28.6 548.7 28.6 560.0 28.5 C571.3 28.4 589.3 28.4 598.0 28.4 C604.3 28.4 609.7 28.4 612.0 28.4"/><path d="M480.0 32.5 C483.3 32.2 491.7 31.1 500.0 30.7 C508.3 30.3 520.0 30.2 530.0 30.0 C540.0 29.8 548.7 29.7 560.0 29.6 C571.3 29.5 589.3 29.5 598.0 29.5 C604.3 29.5 609.7 29.5 612.0 29.5"/><path d="M480.0 34.2 C483.3 33.8 491.7 32.5 500.0 32.0 C508.3 31.5 520.0 31.4 530.0 31.2 C540.0 31.0 548.7 30.9 560.0 30.8 C571.3 30.7 589.3 30.6 598.0 30.6 C604.3 30.6 609.7 30.6 612.0 30.6"/><path d="M480.0 36.4 C483.3 36.0 491.7 34.7 500.0 34.2 C508.3 33.7 520.0 33.7 530.0 33.6 C540.0 33.5 548.7 33.5 560.0 33.5 C571.3 33.5 589.3 33.5 598.0 33.5 C604.3 33.5 609.7 33.5 612.0 33.5"/></g>
</g>
<g fill="none" stroke-linecap="round" stroke-linejoin="round" clip-path="url(#toprow)" opacity="0.8">
<path d="M418.0 27.0 C413.5 27.0 406.3 27.0 400.0 27.0 C393.7 27.0 386.7 27.0 380.0 27.0 C373.3 27.0 366.7 27.0 360.0 27.0 C353.3 27.0 345.8 27.0 340.0 27.0 C334.2 27.0 329.4 27.0 325.0 27.0 C320.6 27.0 317.4 27.0 313.6 27.0 C309.8 27.0 306.1 27.1 302.3 27.1 C298.5 27.2 294.5 27.2 290.6 27.3 C286.7 27.4 282.8 27.6 278.9 27.8 C275.0 28.0 271.2 28.4 267.3 28.7 C263.4 29.0 259.4 29.4 255.6 29.9 C251.8 30.3 248.0 30.7 244.2 31.4 C240.4 32.1 236.8 33.0 233.0 33.9 C229.2 34.8 225.5 35.8 221.7 36.7 C217.9 37.6 214.1 38.4 210.3 39.2 C206.5 40.0 202.7 41.0 198.9 41.7 C195.1 42.5 191.2 43.2 187.4 43.7 C183.6 44.2 179.8 44.6 176.0 44.7 C172.2 44.9 168.2 44.8 164.3 44.6 C160.5 44.4 156.8 43.8 152.9 43.4 C149.1 43.0 145.1 42.4 141.2 42.1 C137.3 41.8 133.3 41.5 129.5 41.4 C125.7 41.3 122.1 41.3 118.3 41.7 C114.5 42.1 110.4 42.8 106.6 43.7 C102.8 44.6 98.9 45.7 95.3 47.1 C91.7 48.5 88.3 50.2 85.2 52.4 C82.1 54.6 79.0 57.2 76.5 60.1 C74.0 63.0 72.0 66.4 70.2 69.8 C68.4 73.2 67.0 76.8 65.7 80.5 C64.4 84.2 63.5 88.1 62.6 91.9 C61.7 95.7 61.1 99.3 60.5 103.1 C59.9 106.9 59.3 110.7 58.8 114.5 C58.3 118.3 58.0 122.1 57.7 126.0 C57.4 129.9 57.1 134.1 56.8 138.0 C56.5 141.9 56.2 145.8 56.0 149.7 C55.8 153.6 55.7 157.6 55.5 161.5 C55.3 165.4 55.0 169.4 54.8 173.2 C54.6 177.0 54.5 180.7 54.4 184.5 C54.3 188.3 54.2 192.3 54.1 196.2 C54.0 200.1 54.0 204.1 53.9 207.9 C53.8 211.8 53.8 215.5 53.8 219.3 C53.8 223.2 53.8 225.7 53.7 231.0 C53.6 236.9 53.5 246.8 53.4 255.0 C53.3 263.2 53.3 270.8 53.2 280.0 C53.1 289.2 53.0 300.7 53.0 310.0 C53.0 319.3 52.9 326.0 52.9 336.0 C52.9 346.0 52.7 358.4 52.7 370.0 C52.7 381.6 52.8 397.6 52.8 405.5 C52.8 410.7 52.8 413.2 52.9 417.1 C53.0 421.0 52.3 425.8 53.4 428.9 C54.5 432.0 56.7 435.7 59.4 435.9 C62.1 436.1 66.8 432.6 69.8 430.2 C72.8 427.8 75.7 424.9 77.4 421.6 C79.1 418.3 79.2 414.1 80.1 410.4 C81.0 406.7 81.5 403.2 82.6 399.5 C83.7 395.8 85.3 391.7 86.9 388.1 C88.5 384.5 90.2 381.5 92.2 378.1 C94.2 374.8 96.7 371.5 98.6 368.0 C100.5 364.5 102.2 360.8 103.6 357.2 C105.0 353.6 105.8 349.9 107.0 346.3 C108.2 342.7 109.6 339.0 111.1 335.4 C112.6 331.8 114.5 328.0 116.2 324.5 C117.9 321.0 119.5 317.9 121.3 314.6 C123.1 311.3 125.1 308.2 126.8 304.7 C128.5 301.2 129.8 297.3 131.3 293.8 C132.8 290.3 134.3 287.2 136.0 283.8 C137.7 280.4 139.4 277.1 141.3 273.7 C143.2 270.3 145.4 267.1 147.3 263.7 C149.2 260.3 150.9 256.7 152.7 253.2 C154.5 249.7 156.1 246.3 158.0 242.8 C159.9 239.3 162.1 235.6 164.1 232.3 C166.1 229.0 168.1 226.0 170.2 222.8 C172.2 219.6 174.3 216.3 176.4 213.0 C178.5 209.7 180.5 206.1 182.7 202.9 C184.9 199.7 187.1 196.8 189.4 193.7 C191.7 190.6 194.1 187.6 196.4 184.5 C198.7 181.4 200.7 178.1 203.1 175.0 C205.5 171.9 208.0 168.8 210.6 165.8 C213.2 162.8 216.0 159.8 218.7 156.9 C221.4 154.0 224.1 151.3 226.7 148.5 C229.3 145.7 231.5 142.8 234.2 140.1 C236.8 137.4 239.8 134.7 242.6 132.1 C245.4 129.5 248.0 127.2 250.9 124.6 C253.8 122.0 257.0 119.2 260.1 116.7 C263.2 114.2 266.2 112.2 269.3 109.9 C272.4 107.6 275.7 105.2 278.9 103.0 C282.1 100.8 285.4 98.9 288.6 96.9 C291.8 94.9 295.0 93.0 298.3 91.1 C301.6 89.1 305.2 87.0 308.6 85.2 C312.1 83.4 315.5 81.7 319.0 80.0 C322.5 78.3 326.0 76.8 329.5 75.2 C333.0 73.6 336.5 71.7 340.1 70.2 C343.7 68.7 347.2 67.3 350.9 66.0 C354.6 64.7 358.3 63.6 362.1 62.6 C365.9 61.6 369.7 60.7 373.5 59.8 C377.3 58.9 380.9 58.0 384.7 57.1 C388.5 56.2 392.4 55.4 396.1 54.3 C399.8 53.2 403.4 51.8 407.0 50.4 C410.6 49.0 414.5 47.6 417.8 45.6 C421.1 43.6 424.8 40.7 426.8 38.2 C428.8 35.7 430.0 32.3 430.0 30.5 C430.0 28.7 428.9 27.8 427.0 27.2 C425.0 26.6 422.1 27.0 418.0 27.0Z" stroke="#ff0000" stroke-width="5.3" stroke-dasharray="1.7 9.9"/>
</g>
<circle cx="358.4" cy="42.8" r="5.5" fill="#000"/>
<g fill="none" stroke-width="1">
<path d="M29.5 26.5H598M29.5 608.5H598" stroke="#8e8e8e"/>
<path d="M29.5 26V609" stroke="#606060"/>
</g>
<path d="M61.1 608.5v-2 M61.1 26.5v2 M93.5 608.5v-4 M93.5 26.5v4 M125.8 608.5v-2 M125.8 26.5v2 M158.2 608.5v-2 M158.2 26.5v2 M190.6 608.5v-2 M190.6 26.5v2 M222.9 608.5v-4 M222.9 26.5v4 M255.2 608.5v-2 M255.2 26.5v2 M287.6 608.5v-2 M287.6 26.5v2 M320.0 608.5v-2 M320.0 26.5v2 M352.3 608.5v-4 M352.3 26.5v4 M384.7 608.5v-2 M384.7 26.5v2 M417.0 608.5v-2 M417.0 26.5v2 M449.4 608.5v-2 M449.4 26.5v2 M481.7 608.5v-4 M481.7 26.5v4 M514.0 608.5v-2 M514.0 26.5v2 M546.4 608.5v-2 M546.4 26.5v2 M578.8 608.5v-2 M578.8 26.5v2 M29.5 49.8h2 M29.5 73.1h2 M29.5 96.5h2 M29.5 119.8h2 M29.5 143.1h4 M29.5 166.4h2 M29.5 189.7h2 M29.5 213.1h2 M29.5 236.4h2 M29.5 259.7h4 M29.5 283.0h2 M29.5 306.3h2 M29.5 329.7h2 M29.5 353.0h2 M29.5 376.3h4 M29.5 399.6h2 M29.5 422.9h2 M29.5 446.3h2 M29.5 469.6h2 M29.5 492.9h4 M29.5 516.2h2 M29.5 539.5h2 M29.5 562.9h2 M29.5 586.2h2" stroke="#aaa" stroke-width="1" fill="none"/>
<g style="filter:grayscale(1)" stroke="#fff" stroke-width="0.25">
<text transform="translate(320.3,13.9) scale(1.017,0.91)" x="0" y="0" font-size="18" text-anchor="middle">PDF for GCGM</text>
<ellipse cx="93.5" cy="624.6" rx="2.5" ry="4.4" fill="none" stroke="#222" stroke-width="1.05"/>
<text x="222.9" y="629.4" font-size="13.8" text-anchor="middle" stroke-width="0.15">2</text>
<text x="352.3" y="629.4" font-size="13.8" text-anchor="middle" stroke-width="0.15">4</text>
<text x="481.7" y="629.4" font-size="13.8" text-anchor="middle" stroke-width="0.15">6</text>
<text x="18.6" y="30.7" font-size="13.8" text-anchor="end" stroke-width="0.15">1</text>
<text x="18.6" y="147.3" font-size="13.8" text-anchor="end" stroke-width="0.15">9</text>
<circle cx="5.5" cy="146.5" r="1.4" fill="#111"/>
<text x="18.6" y="263.9" font-size="13.8" text-anchor="end" stroke-width="0.15">8</text>
<circle cx="5.5" cy="263.1" r="1.4" fill="#111"/>
<text x="18.6" y="380.5" font-size="13.8" text-anchor="end" stroke-width="0.15">7</text>
<circle cx="5.5" cy="379.7" r="1.4" fill="#111"/>
<text x="18.6" y="497.1" font-size="13.8" text-anchor="end" stroke-width="0.15">6</text>
<circle cx="5.5" cy="496.3" r="1.4" fill="#111"/>
</g>
</svg>
</body></html>
